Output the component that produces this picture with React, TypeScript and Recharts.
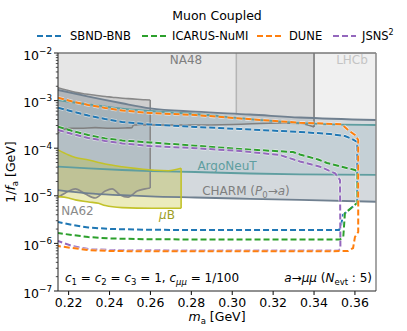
import React from "react";
import { ComposedChart, Area, Line, XAxis, YAxis } from "recharts";

const FONT = "DejaVu Sans, Verdana, sans-serif";

const X_MIN = 0.2148;
const X_MAX = 0.3703;
const Y_MIN = 1e-7;
const Y_MAX = 1e-2;

const X_TICKS = [0.22, 0.24, 0.26, 0.28, 0.3, 0.32, 0.34, 0.36];
const Y_DECADES = [1e-7, 1e-6, 1e-5, 1e-4, 1e-3, 1e-2];

// existing bounds
const NA48_M = [0.2148, 0.2168, 0.2208, 0.2257, 0.233, 0.2404, 0.2477, 0.251, 0.2517, 0.2599, 0.2819, 0.3004, 0.3233, 0.3331, 0.34];
const NA48_LOW = [2.06e-4, 2.41e-4, 2.62e-4, 2.62e-4, 2.7e-4, 2.62e-4, 2.66e-4, 2.7e-4, 3.07e-4, 3.07e-4, 3.07e-4, 3.15e-4, 3.38e-4, 3.3e-4, 2.79e-4];

const LHCB_M = [0.302, 0.3331, 0.3703];
const LHCB_LOW = [5.0e-4, 4.2e-4, 3.8e-4];

const NA62_M = [0.2148, 0.2184, 0.2233, 0.2282, 0.233, 0.2379, 0.2413, 0.2452, 0.2491, 0.2535, 0.2574, 0.2599];
const NA62_TOP = [1.87e-3, 1.69e-3, 1.49e-3, 1.38e-3, 1.3e-3, 1.22e-3, 1.18e-3, 1.13e-3, 1.1e-3, 1.07e-3, 1.04e-3, 1.03e-3];
const NA62_BOT = [9.4e-6, 1.15e-5, 1.4e-5, 1.09e-5, 9.0e-6, 1.26e-5, 1.4e-5, 1.04e-5, 9.4e-6, 1.26e-5, 1.4e-5, 1.46e-5];

const CHARM_M = [0.2148, 0.2298, 0.2461, 0.2599, 0.2819, 0.3087, 0.3331, 0.3703];
const CHARM_TOP = [1.67e-3, 1.21e-3, 8.8e-4, 6.9e-4, 5.85e-4, 5.1e-4, 4.42e-4, 3.91e-4];
const CHARM_BOT = [1.32e-5, 1.12e-5, 1.03e-5, 9.7e-6, 9.2e-6, 8.65e-6, 8.2e-6, 7.5e-6];

const ARGO_M = [0.2148, 0.2298, 0.2461, 0.2599, 0.2819, 0.3087, 0.3331, 0.3703];
const ARGO_TOP = [1.03e-3, 8.3e-4, 6.8e-4, 6.05e-4, 5.23e-4, 4.1e-4, 3.38e-4, 3.07e-4];
const ARGO_BOT = [4.09e-5, 3.75e-5, 3.48e-5, 3.32e-5, 3.16e-5, 2.94e-5, 2.83e-5, 2.74e-5];

const MUB_M = [0.2148, 0.22, 0.2233, 0.2298, 0.2346, 0.2379, 0.2461, 0.2607, 0.2623, 0.2688, 0.275];
const MUB_TOP = [9.2e-5, 7.2e-5, 6.38e-5, 5.65e-5, 5.01e-5, 4.66e-5, 4.09e-5, 3.48e-5, 3.43e-5, 3.37e-5, 3.78e-5];
const MUB_BOT = [9.6e-6, 9.0e-6, 8.2e-6, 7.4e-6, 6.95e-6, 6.25e-6, 5.65e-6, 5.46e-6, 5.46e-6, 5.46e-6, 5.46e-6];

// projected sensitivity contours (closed paths)
const SBND_M = [0.2148, 0.2218, 0.2296, 0.2379, 0.2462, 0.2599, 0.2819, 0.3038, 0.3331, 0.3478, 0.3551, 0.3586, 0.3611, 0.3611, 0.3576, 0.3541, 0.3532, 0.3522, 0.3233, 0.2843, 0.2599, 0.2404, 0.2296, 0.2218, 0.2148];
const SBND_V = [7.1e-4, 5.9e-4, 4.86e-4, 4.1e-4, 3.55e-4, 3.15e-4, 2.8e-4, 2.53e-4, 2.19e-4, 1.99e-4, 1.8e-4, 1.56e-4, 1.35e-4, 7.06e-6, 5.28e-6, 3.95e-6, 2.32e-6, 1.91e-6, 1.91e-6, 1.91e-6, 1.93e-6, 2.01e-6, 2.16e-6, 2.44e-6, 2.82e-6];

const ICARUS_M = [0.2148, 0.2218, 0.2296, 0.2379, 0.2462, 0.2599, 0.2819, 0.3038, 0.3297, 0.3331, 0.342, 0.3464, 0.36, 0.3611, 0.3611, 0.3551, 0.3543, 0.3527, 0.3331, 0.2843, 0.2599, 0.2404, 0.2296, 0.2218, 0.2148];
const ICARUS_V = [2.83e-4, 2.3e-4, 1.89e-4, 1.6e-4, 1.45e-4, 1.32e-4, 1.13e-4, 9.6e-5, 8.3e-5, 7.38e-5, 5.79e-5, 4.89e-5, 3.48e-5, 3.24e-5, 7.06e-6, 4.29e-6, 1.38e-6, 1.21e-6, 1.21e-6, 1.21e-6, 1.22e-6, 1.27e-6, 1.36e-6, 1.5e-6, 1.65e-6];

const DUNE_M = [0.2148, 0.2218, 0.2296, 0.2379, 0.2462, 0.2599, 0.2819, 0.3038, 0.3331, 0.3535, 0.3567, 0.36, 0.3616, 0.3616, 0.36, 0.3591, 0.3566, 0.3331, 0.2843, 0.2599, 0.2404, 0.2296, 0.2218, 0.2148];
const DUNE_V = [1.15e-3, 9.57e-4, 8.1e-4, 7.0e-4, 6.19e-4, 5.49e-4, 4.98e-4, 4.21e-4, 3.43e-4, 3.18e-4, 2.41e-4, 1.89e-4, 1.49e-4, 1.73e-6, 1.36e-6, 8.0e-7, 6.9e-7, 6.8e-7, 6.8e-7, 6.85e-7, 6.9e-7, 7.26e-7, 8.0e-7, 8.8e-7];

const JSNS_M = [0.2148, 0.2218, 0.2296, 0.2379, 0.2462, 0.2599, 0.2819, 0.3038, 0.3233, 0.3331, 0.3429, 0.3503, 0.3527, 0.3529, 0.3517, 0.3233, 0.2843, 0.2599, 0.2404, 0.2296, 0.2218, 0.2148];
const JSNS_V = [2.41e-4, 1.99e-4, 1.64e-4, 1.42e-4, 1.26e-4, 1.11e-4, 1.0e-4, 8.73e-5, 7.2e-5, 5.26e-5, 4.09e-5, 2.97e-5, 2.15e-5, 7.6e-7, 7.1e-7, 7.1e-7, 7.1e-7, 7.15e-7, 7.26e-7, 7.6e-7, 8.8e-7, 1.12e-6];

const COLORS = {
  SBND: "#1f77b4",
  ICARUS: "#2ca02c",
  DUNE: "#ff7f0e",
  JSNS: "#9467bd",
};

const pts = (ms: number[], vs: number[]) => ms.map((m, i) => ({ m, v: vs[i] }));
const band = (ms: number[], lo: number[], hi: number[]) =>
  ms.map((m, i) => ({ m, v: [lo[i], hi[i]] }));
const toTop = (ms: number[]) => ms.map(() => Y_MAX);

const yTicks: number[] = [];
Y_DECADES.forEach((d, i) => {
  if (i === Y_DECADES.length - 1) {
    yTicks.push(d);
    return;
  }
  for (let k = 1; k < 10; k++) yTicks.push(d * k);
});

function YTick(props: any) {
  const { x, y, payload } = props;
  const lg = Math.log10(payload.value);
  const e = Math.round(lg);
  const major = Math.abs(lg - e) < 1e-6;
  return (
    <g>
      <line x1={x - (major ? 4 : 2.2)} x2={x} y1={y} y2={y} stroke="#000" strokeWidth={major ? 0.9 : 0.7} />
      {major && (
        <text x={x - 6} y={y + 6.5} textAnchor="end" fontSize={12.5} fontFamily={FONT} fill="#000">
          10
          <tspan fontSize={8.8} dy={-6}>
            {"\u2212" + Math.abs(e)}
          </tspan>
        </text>
      )}
    </g>
  );
}

const dashed = (key: string, data: any[], color: string) => [
  <Line
    key={key + "-halo"}
    data={data}
    dataKey="v"
    type="linear"
    stroke="#ffffff"
    strokeOpacity={0.55}
    strokeWidth={3.6}
    strokeDasharray="6 3"
    dot={false}
    activeDot={false}
    isAnimationActive={false}
  />,
  <Line
    key={key}
    data={data}
    dataKey="v"
    type="linear"
    stroke={color}
    strokeWidth={2}
    strokeDasharray="6 3"
    dot={false}
    activeDot={false}
    isAnimationActive={false}
  />,
];

const edge = (key: string, data: any[], color: string, width = 1.6, type: any = "monotoneX") => (
  <Line
    key={key}
    data={data}
    dataKey="v"
    type={type}
    stroke={color}
    strokeWidth={width}
    dot={false}
    activeDot={false}
    isAnimationActive={false}
  />
);

const fill = (key: string, data: any[], color: string, opacity: number) => (
  <Area
    key={key}
    data={data}
    dataKey="v"
    type="monotoneX"
    stroke="none"
    fill={color}
    fillOpacity={opacity}
    dot={false}
    activeDot={false}
    isAnimationActive={false}
  />
);

export default function App() {
  const legend = [
    { label: "SBND-BNB", color: COLORS.SBND, x1: 37, x2: 63, tx: 70 },
    { label: "ICARUS-NuMI", color: COLORS.ICARUS, x1: 142, x2: 166, tx: 172 },
    { label: "DUNE", color: COLORS.DUNE, x1: 257, x2: 281, tx: 289 },
    { label: "JSNS", color: COLORS.JSNS, x1: 333, x2: 356, tx: 362 },
  ];

  return (
    <div style={{ position: "absolute", left: 0, top: 0, width: 407, height: 331, background: "#fff" }}>
      <ComposedChart width={407} height={331} margin={{ top: 53, right: 31, bottom: 0, left: 0 }}>
        <XAxis
          dataKey="m"
          type="number"
          domain={[X_MIN, X_MAX]}
          allowDataOverflow
          ticks={X_TICKS}
          interval={0}
          tickFormatter={(v: number) => v.toFixed(2)}
          tick={{ fontSize: 12.5, fill: "#000", fontFamily: FONT }}
          tickSize={4}
          tickMargin={3.5}
          tickLine={{ stroke: "#000" }}
          axisLine={false}
          height={40}
        />
        <YAxis
          type="number"
          scale="log"
          domain={[Y_MIN, Y_MAX]}
          allowDataOverflow
          ticks={yTicks}
          interval={0}
          tick={<YTick />}
          tickSize={0}
          tickMargin={0}
          tickLine={false}
          axisLine={false}
          width={58}
        />

        {fill("lhcb", band(LHCB_M, LHCB_LOW, toTop(LHCB_M)), "#808080", 0.12)}
        {fill("na48", band(NA48_M, NA48_LOW, toTop(NA48_M)), "#808080", 0.2)}
        {fill("na62", band(NA62_M, NA62_BOT, NA62_TOP), "#808080", 0.22)}
        {fill("charm", band(CHARM_M, CHARM_BOT, CHARM_TOP), "#708090", 0.3)}
        {fill("argo", band(ARGO_M, ARGO_BOT, ARGO_TOP), "#6a9fae", 0.14)}
        {fill("mub", band(MUB_M, MUB_BOT, MUB_TOP), "#bcbd22", 0.3)}

        {edge("lhcb-v", pts([0.302, 0.302], [LHCB_LOW[0], Y_MAX]), "#b4b4b4", 1.5, "linear")}
        {edge("na48-low", pts(NA48_M, NA48_LOW), "#808080")}
        {edge("na48-v", pts([0.34, 0.34], [NA48_LOW[NA48_LOW.length - 1], Y_MAX]), "#7a7a7a", 1.6, "linear")}
        {edge("na62-top", pts(NA62_M, NA62_TOP), "#888888")}
        {edge("na62-bot", pts(NA62_M, NA62_BOT), "#888888")}
        {edge("na62-v", pts([0.2599, 0.2599], [NA62_BOT[NA62_BOT.length - 1], NA62_TOP[NA62_TOP.length - 1]]), "#888888", 1.6, "linear")}
        {edge("charm-top", pts(CHARM_M, CHARM_TOP), "#708090", 1.8)}
        {edge("charm-bot", pts(CHARM_M, CHARM_BOT), "#708090", 1.8)}
        {edge("argo-top", pts(ARGO_M, ARGO_TOP), "#5f9ea0", 1.8)}
        {edge("argo-bot", pts(ARGO_M, ARGO_BOT), "#5f9ea0", 1.8)}
        {edge("mub-top", pts(MUB_M, MUB_TOP), "#c2c22a")}
        {edge("mub-bot", pts(MUB_M, MUB_BOT), "#c2c22a")}
        {edge("mub-v", pts([0.275, 0.275], [MUB_BOT[MUB_BOT.length - 1], MUB_TOP[MUB_TOP.length - 1]]), "#c2c22a", 1.6, "linear")}

        {dashed("sbnd", pts(SBND_M, SBND_V), COLORS.SBND)}
        {dashed("icarus", pts(ICARUS_M, ICARUS_V), COLORS.ICARUS)}
        {dashed("jsns", pts(JSNS_M, JSNS_V), COLORS.JSNS)}
        {dashed("dune", pts(DUNE_M, DUNE_V), COLORS.DUNE)}
      </ComposedChart>

      <svg
        width={407}
        height={331}
        style={{ position: "absolute", left: 0, top: 0, pointerEvents: "none" }}
        fontFamily={FONT}
      >
        {/* frame */}
        <line x1={58} x2={376} y1={53} y2={53} stroke="#777" strokeWidth={1.5} />
        <line x1={376} x2={376} y1={53} y2={291} stroke="#888" strokeWidth={1.5} />
        <line x1={58} x2={58} y1={53} y2={291} stroke="#222" strokeWidth={1} />
        <line x1={58} x2={376} y1={291} y2={291} stroke="#222" strokeWidth={1} />

        {/* legend */}
        <text x={217} y={20} textAnchor="middle" fontSize={12.5} fill="#000">
          Muon Coupled
        </text>
        {legend.map((l) => (
          <g key={l.label}>
            <line x1={l.x1} x2={l.x2} y1={36} y2={36} stroke={l.color} strokeWidth={2} strokeDasharray="6 3" />
            <text x={l.tx} y={40} fontSize={11.5} fill="#000">
              {l.label}
              {l.label === "JSNS" && (
                <tspan fontSize={8} dy={-5}>
                  2
                </tspan>
              )}
            </text>
          </g>
        ))}

        {/* region labels */}
        <text x={186} y={64} textAnchor="middle" fontSize={12} fill="#7f7f7f">NA48</text>
        <text x={352} y={64} textAnchor="middle" fontSize={12} fill="#c4c4c4">LHCb</text>
        <text x={227} y={169.5} textAnchor="middle" fontSize={12} fill="#5f9ea0">ArgoNeuT</text>
        <text x={246} y={194.5} textAnchor="middle" fontSize={12} fill="#7f7f7f">
          CHARM (<tspan fontStyle="italic">P</tspan>
          <tspan fontSize={8.5} dy={3}>0</tspan>
          <tspan dy={-3}>{"\u2192"}</tspan>
          <tspan fontStyle="italic">a</tspan>)
        </text>
        <text x={77.5} y={214.5} textAnchor="middle" fontSize={12} fill="#8a8a8a">NA62</text>
        <text x={167} y={218.5} textAnchor="middle" fontSize={12} fill="#9e9e1e">
          <tspan fontStyle="italic">{"\u03bc"}</tspan>B
        </text>

        {/* annotations */}
        <text x={65} y={282} fontSize={12} fill="#000">
          <tspan fontStyle="italic">c</tspan>
          <tspan fontSize={8.5} dy={3}>1</tspan>
          <tspan dy={-3}> = </tspan>
          <tspan fontStyle="italic">c</tspan>
          <tspan fontSize={8.5} dy={3}>2</tspan>
          <tspan dy={-3}> = </tspan>
          <tspan fontStyle="italic">c</tspan>
          <tspan fontSize={8.5} dy={3}>3</tspan>
          <tspan dy={-3}> = 1, </tspan>
          <tspan fontStyle="italic">c</tspan>
          <tspan fontSize={8.5} dy={3} fontStyle="italic">{"\u03bc\u03bc"}</tspan>
          <tspan dy={-3}> = 1/100</tspan>
        </text>
        <text x={372} y={282} textAnchor="end" fontSize={12} fill="#000">
          <tspan fontStyle="italic">a</tspan>
          <tspan>{"\u2192"}</tspan>
          <tspan fontStyle="italic">{"\u03bc\u03bc"}</tspan>
          <tspan> (</tspan>
          <tspan fontStyle="italic">N</tspan>
          <tspan fontSize={8.5} dy={3}>evt</tspan>
          <tspan dy={-3}> : 5)</tspan>
        </text>

        {/* axis labels */}
        <text x={217} y={321} textAnchor="middle" fontSize={12.5} fill="#000">
          <tspan fontStyle="italic">m</tspan>
          <tspan fontSize={8.5} dy={3}>a</tspan>
          <tspan dy={-3}> [GeV]</tspan>
        </text>
        <text x={15} y={172} textAnchor="middle" fontSize={12.5} fill="#000" transform="rotate(-90, 15, 172)">
          1/<tspan fontStyle="italic">f</tspan>
          <tspan fontSize={8.5} dy={3}>a</tspan>
          <tspan dy={-3}> [GeV]</tspan>
        </text>
      </svg>
    </div>
  );
}
